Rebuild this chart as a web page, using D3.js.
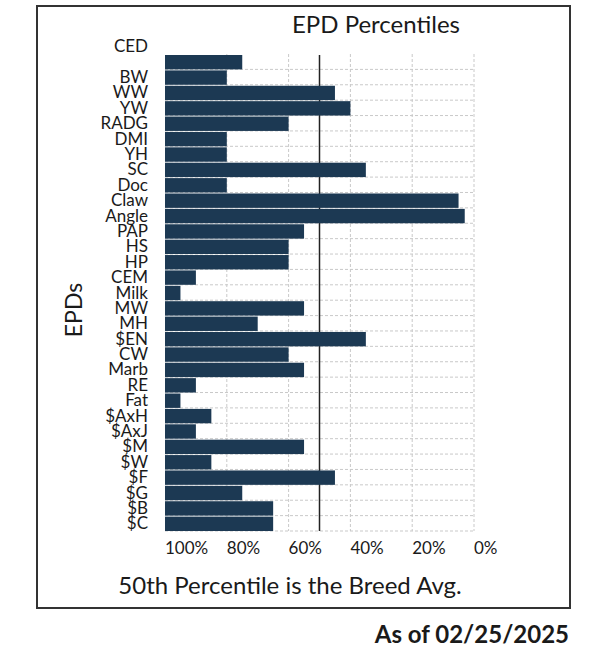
<!DOCTYPE html>
<html>
<head>
<meta charset="utf-8">
<script src="https://cdn.jsdelivr.net/npm/d3@7/dist/d3.min.js"></script>
<style>
  html, body { margin: 0; padding: 0; background: #fff; }
  svg { display: block; font-family: Lato, "Open Sans", sans-serif; }
</style>
</head>
<body>
<svg id="chart" width="600" height="655"></svg>
<script>
const categories = ["CED","BW","WW","YW","RADG","DMI","YH","SC","Doc","Claw","Angle","PAP","HS","HP","CEM","Milk","MW","MH","$EN","CW","Marb","RE","Fat","$AxH","$AxJ","$M","$W","$F","$G","$B","$C"];
const percentiles = [75,80,45,40,60,80,80,35,80,5,3,55,60,60,90,95,55,70,35,60,55,90,95,85,90,55,85,45,75,65,65];
const tickValues = [100,80,60,40,20,0];
const tickLabels = ["100%","80%","60%","40%","20%","0%"];
const breedAvg = 50;

const svg = d3.select("#chart");
const barColor = "#1c3953";

const x = d3.scaleLinear().domain([100, 0]).range([165, 474]);
const y = d3.scaleBand().domain(categories).range([54, 531]).paddingInner(0).paddingOuter(0);

// frame
svg.append("rect").attr("x", 37).attr("y", 6).attr("width", 533).attr("height", 602)
  .attr("fill", "none").attr("stroke", "#333").attr("stroke-width", 2);

// title
svg.append("text").attr("x", 376).attr("y", 33).attr("text-anchor", "middle")
  .attr("font-size", 24).attr("fill", "#1a1a1a").text("EPD Percentiles");

// vertical dashed gridlines
svg.append("g").selectAll("line").data(tickValues.filter(v => v !== 100)).join("line")
  .attr("x1", d => x(d)).attr("x2", d => x(d))
  .attr("y1", y.range()[0]).attr("y2", y.range()[1])
  .attr("stroke", "#c9c9c9").attr("stroke-width", 1).attr("stroke-dasharray", "3,2");

// horizontal dashed gridlines at band boundaries
const boundaries = categories.slice(1).map(c => y(c)).concat([y.range()[1]]);
svg.append("g").selectAll("line").data(boundaries).join("line")
  .attr("x1", x(100)).attr("x2", x(0))
  .attr("y1", d => d).attr("y2", d => d)
  .attr("stroke", "#c9c9c9").attr("stroke-width", 1).attr("stroke-dasharray", "3,2");

// breed average line
svg.append("line").attr("x1", x(breedAvg)).attr("x2", x(breedAvg))
  .attr("y1", y.range()[0] + 1).attr("y2", y.range()[1])
  .attr("stroke", "#222").attr("stroke-width", 1.5);

// bars
svg.append("g").selectAll("rect").data(categories).join("rect")
  .attr("x", x(100))
  .attr("y", d => y(d) + 1)
  .attr("width", (d, i) => x(percentiles[i]) - x(100))
  .attr("height", y.bandwidth() - 1)
  .attr("fill", barColor);

// category labels
svg.append("g").selectAll("text").data(categories).join("text")
  .attr("x", 148)
  .attr("y", (d, i) => (i === 0 ? y(d) - y.step() : y(d)) + y.bandwidth() / 2 + 6)
  .attr("text-anchor", "end")
  .attr("font-size", 17).attr("fill", "#1a1a1a")
  .text(d => d);

// x tick labels
svg.append("g").selectAll("text").data(tickValues).join("text")
  .attr("x", d => x(d))
  .attr("y", 554)
  .attr("text-anchor", "start")
  .attr("font-size", 17).attr("fill", "#1a1a1a")
  .text((d, i) => tickLabels[i]);

// y-axis title
svg.append("text").attr("transform", "translate(82,310) rotate(-90)")
  .attr("text-anchor", "middle").attr("font-size", 23).attr("fill", "#1a1a1a").text("EPDs");

// footnote
svg.append("text").attr("x", 290).attr("y", 594).attr("text-anchor", "middle")
  .attr("font-size", 24).attr("fill", "#1a1a1a").text("50th Percentile is the Breed Avg.");

svg.append("text").attr("x", 569).attr("y", 643).attr("text-anchor", "end")
  .attr("font-size", 24).attr("font-weight", "bold").attr("fill", "#1a1a1a").text("As of 02/25/2025");
</script>
</body>
</html>
